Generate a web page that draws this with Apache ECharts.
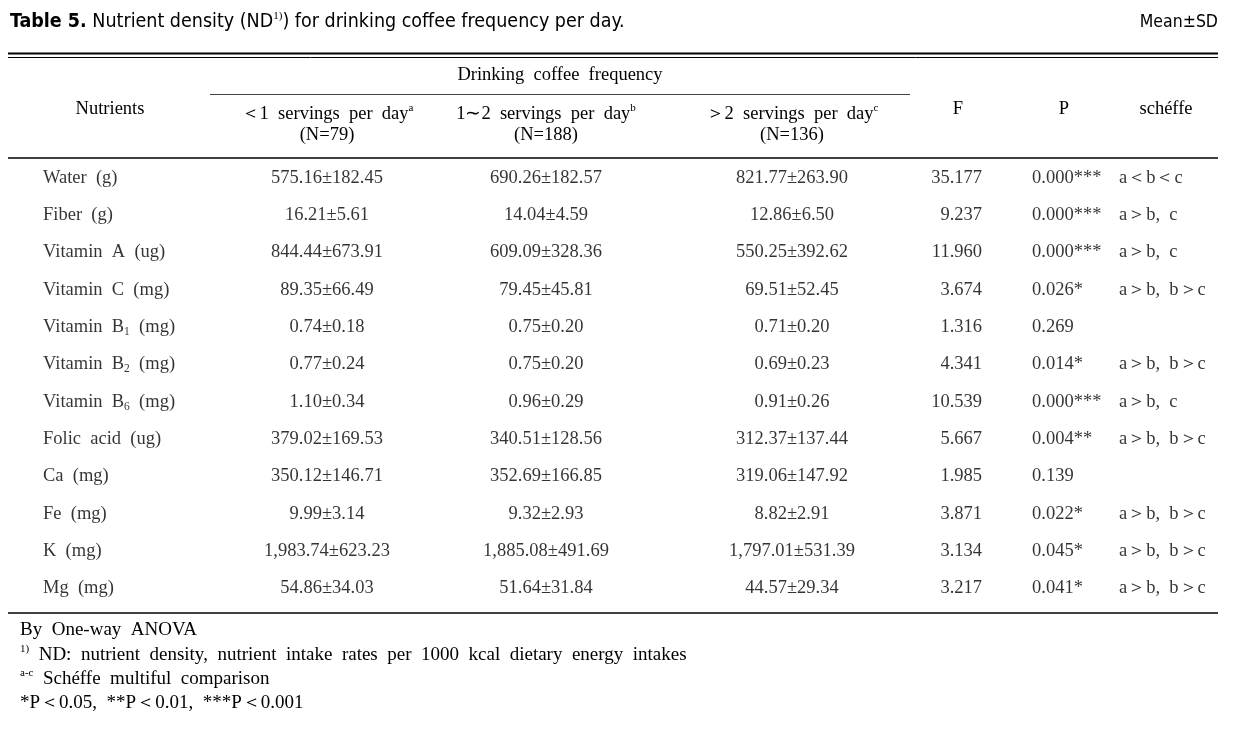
<!DOCTYPE html>
<html><head><meta charset="utf-8">
<script src="https://cdn.jsdelivr.net/npm/echarts@6/dist/echarts.min.js"></script>
<style>html,body{margin:0;padding:0;background:#fff}#c{width:1238px;height:729px}</style>
</head><body><div id="c"></div>
<script>
// ---------- data ----------
const nutrients = ['Water  (g)', 'Fiber  (g)', 'Vitamin  A  (ug)', 'Vitamin  C  (mg)',
  'Vitamin  B{sub|1}  (mg)', 'Vitamin  B{sub|2}  (mg)', 'Vitamin  B{sub|6}  (mg)',
  'Folic  acid  (ug)', 'Ca  (mg)', 'Fe  (mg)', 'K  (mg)', 'Mg  (mg)'];
const mean1 = [575.16, 16.21, 844.44, 89.35, 0.74, 0.77, 1.10, 379.02, 350.12, 9.99, 1983.74, 54.86];
const sd1   = [182.45, 5.61, 673.91, 66.49, 0.18, 0.24, 0.34, 169.53, 146.71, 3.14, 623.23, 34.03];
const mean2 = [690.26, 14.04, 609.09, 79.45, 0.75, 0.75, 0.96, 340.51, 352.69, 9.32, 1885.08, 51.64];
const sd2   = [182.57, 4.59, 328.36, 45.81, 0.20, 0.20, 0.29, 128.56, 166.85, 2.93, 491.69, 31.84];
const mean3 = [821.77, 12.86, 550.25, 69.51, 0.71, 0.69, 0.91, 312.37, 319.06, 8.82, 1797.01, 44.57];
const sd3   = [263.90, 6.50, 392.62, 52.45, 0.20, 0.23, 0.26, 137.44, 147.92, 2.91, 531.39, 29.34];
const fValues = [35.177, 9.237, 11.960, 3.674, 1.316, 4.341, 10.539, 5.667, 1.985, 3.871, 3.134, 3.217];
const pValues = [0.000, 0.000, 0.000, 0.026, 0.269, 0.014, 0.000, 0.004, 0.139, 0.022, 0.045, 0.041];
const scheffe = ['a＜b＜c', 'a＞b,  c', 'a＞b,  c', 'a＞b,  b＞c', '', 'a＞b,  b＞c', 'a＞b,  c',
  'a＞b,  b＞c', '', 'a＞b,  b＞c', 'a＞b,  b＞c', 'a＞b,  b＞c'];
const groupHeaders = ['＜1  servings  per  day', '1∼2  servings  per  day', '＞2  servings  per  day'];
const groupSup = ['a', 'b', 'c'];
const groupN = [79, 188, 136];
const footnotes = ['By  One-way  ANOVA',
  '{sup|1)}  ND:  nutrient  density,  nutrient  intake  rates  per  1000  kcal  dietary  energy  intakes',
  '{sup|a-c}  Schéffe  multiful  comparison',
  '*P＜0.05,  **P＜0.01,  ***P＜0.001'];

// ---------- helpers ----------
const SERIF = "'Liberation Serif', 'Times New Roman', serif";
const SANS = "'Liberation Sans Narrow', 'DejaVu Sans Condensed', 'Arial Narrow', 'Liberation Sans', sans-serif";
const FS = 18.5;
const FS_FOOT = 19;
const INK = '#000';
const fmt = v => v.toLocaleString('en-US', {minimumFractionDigits: 2, maximumFractionDigits: 2});
const stars = p => p < 0.001 ? '***' : p < 0.01 ? '**' : p < 0.05 ? '*' : '';
const rich = {
  sub: {fontFamily: SERIF, fontSize: 11.5, color: INK, verticalAlign: 'bottom', lineHeight: 22},
  sup: {fontFamily: SERIF, fontSize: 11, color: INK, verticalAlign: 'top', lineHeight: 22},
  b: {fontFamily: SANS, fontSize: 19.5, fontWeight: 'bold', color: INK, lineHeight: 22}
};

const columns = [
  {texts: nutrients, x: 43, align: 'left'},
  {texts: mean1.map((m, i) => fmt(m) + '±' + fmt(sd1[i])), x: 327, align: 'center'},
  {texts: mean2.map((m, i) => fmt(m) + '±' + fmt(sd2[i])), x: 546, align: 'center'},
  {texts: mean3.map((m, i) => fmt(m) + '±' + fmt(sd3[i])), x: 792, align: 'center'},
  {texts: fValues.map(v => v.toFixed(3)), x: 982, align: 'right'},
  {texts: pValues.map(v => v.toFixed(3) + stars(v)), x: 1032, align: 'left'},
  {texts: scheffe, x: 1119, align: 'left'}
];

const grids = [], xAxes = [], yAxes = [], series = [];
columns.forEach((c, i) => {
  grids.push({left: c.x - 1, width: 2, top: 159, height: 448, show: false});
  xAxes.push({gridIndex: i, type: 'category', data: ['v'], show: false});
  yAxes.push({gridIndex: i, type: 'category', data: nutrients, inverse: true, show: false});
  series.push({
    type: 'scatter', xAxisIndex: i, yAxisIndex: i, symbolSize: 0, silent: true,
    data: c.texts.map((t, j) => [0, j, t]),
    label: {show: true, position: 'inside', align: c.align, verticalAlign: 'middle',
      formatter: p => p.value[2], fontFamily: SERIF, fontSize: FS, color: INK, lineHeight: 22, rich: rich}
  });
});

function txt(text, x, y, align, font, size, extra) {
  return Object.assign({type: 'text', x: x, y: y, silent: true,
    style: {text: text, align: align, textAlign: align, verticalAlign: 'middle', textVerticalAlign: 'middle',
      fontFamily: font, fontSize: size, fill: INK, lineHeight: 22, rich: rich}}, extra || {});
}
function hline(x1, x2, y, w, color) {
  return {type: 'line', silent: true, shape: {x1: x1, y1: y, x2: x2, y2: y},
    style: {stroke: color || INK, lineWidth: w}};
}

const graphics = [
  txt('{b|Table 5.} Nutrient density (ND{sup|1)}) for drinking coffee frequency per day.', 10, 22, 'left', SANS, 19.5),
  txt('Mean±SD', 1218, 22, 'right', SANS, 17.5),
  hline(8, 1218, 53.5, 2),
  hline(8, 1218, 57.5, 1),
  txt('Drinking  coffee  frequency', 560, 75, 'center', SERIF, FS),
  hline(210, 910, 94.5, 1, '#444'),
  txt('Nutrients', 110, 109, 'center', SERIF, FS),
  txt('F', 958, 109, 'center', SERIF, FS),
  txt('P', 1064, 109, 'center', SERIF, FS),
  txt('schéffe', 1166, 109, 'center', SERIF, FS),
  hline(8, 1218, 158, 1.5),
  hline(8, 1218, 613, 1.5)
];
const headerX = [327, 546, 792];
groupHeaders.forEach((h, i) => {
  graphics.push(txt(h + '{sup|' + groupSup[i] + '}', headerX[i], 114, 'center', SERIF, FS));
  graphics.push(txt('(N=' + groupN[i] + ')', headerX[i], 135, 'center', SERIF, FS));
});
const footY = [630, 655, 679, 703];
footnotes.forEach((f, i) => graphics.push(txt(f, 20, footY[i], 'left', SERIF, FS_FOOT)));

const chart = echarts.init(document.getElementById('c'), null, {renderer: 'canvas'});
chart.setOption({
  animation: false,
  backgroundColor: '#fff',
  grid: grids, xAxis: xAxes, yAxis: yAxes, series: series,
  graphic: graphics
});
</script></body></html>
